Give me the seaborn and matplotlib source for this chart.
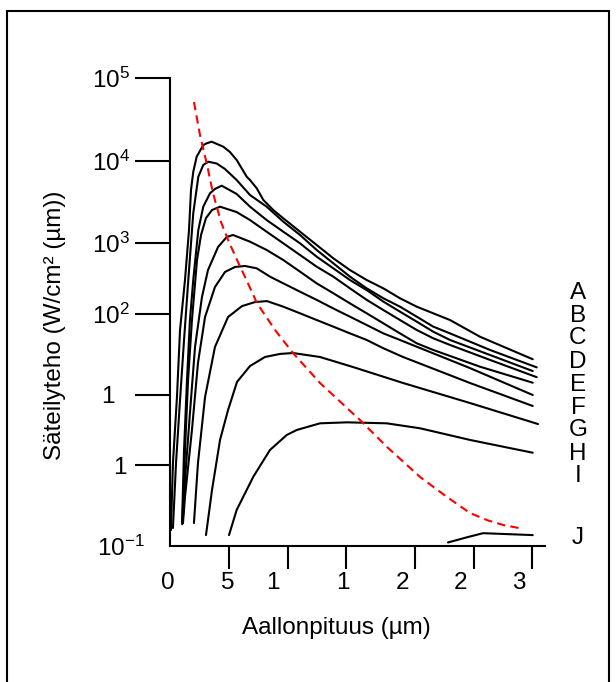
import numpy as np
import pandas as pd
import seaborn as sns
import matplotlib
matplotlib.use("Agg")
import matplotlib.pyplot as plt
from matplotlib.patches import Rectangle
from matplotlib.transforms import ScaledTranslation
from matplotlib.ticker import NullLocator

# curves: wavelength (µm) and radiance
A_X = [0.08, 0.25, 0.59, 0.85, 1.27, 1.61, 1.78, 1.97, 2.26, 2.82, 3.11, 3.53, 4.52, 5.08, 5.65, 6.5, 6.78,
       7.35, 7.91, 8.75, 9.6, 11.02, 12.43, 13.84, 15.25, 16.67, 18.08, 19.49, 20.91, 22.31, 23.73, 26.27, 30.74]
A_Y = [0.16, 1.16, 8.13, 58.8, 257, 1120, 3660, 6240, 9800, 13800, 14550, 15250, 13150, 11250, 8890, 5430, 4920,
       3855, 2730, 2030, 1590, 1070, 723, 488, 345, 257, 201, 150, 117, 96.2, 78.9, 48.2, 24.8]

B_X = [0.25, 0.51, 0.85, 1.19, 1.55, 1.97, 2.40, 2.82, 3.25, 3.96, 4.66, 5.65, 6.78, 8.19, 9.60, 11.02,
       12.43, 13.84, 15.25, 16.67, 18.08, 19.49, 20.91, 22.31, 23.73, 27.12, 31.08]
B_Y = [0.17, 1.16, 7.45, 43.8, 257, 1840, 5430, 7670, 8450, 8010, 6810, 4920, 3160, 2240, 1440, 971,
       624, 421, 284, 201, 150, 117, 87.1, 64.9, 53.2, 32.6, 19.5]

C_X = [1.02, 1.19, 1.44, 1.69, 1.97, 2.40, 2.82, 3.39, 3.81, 4.38, 5.65, 6.78, 8.19, 9.60, 11.02, 12.43,
       13.84, 15.25, 16.67, 18.08, 19.49, 20.91, 22.31, 23.73, 27.12, 30.74]
C_Y = [0.197, 1.70, 13.4, 78.9, 257, 1125, 2240, 3325, 3780, 4160, 3260, 2240, 1510, 1070, 760, 512,
       363, 257, 191, 136, 101, 75.2, 55.9, 43.8, 28.1, 17.5]

D_X = [1.04, 1.27, 1.53, 1.86, 2.29, 2.63, 3.05, 3.56, 4.24, 5.65, 6.78, 8.19, 9.60, 11.02, 12.43,
       13.84, 15.25, 16.67, 18.08, 19.49, 20.91, 22.31, 23.73, 27.12, 31.08]
D_Y = [0.19, 1.70, 13.4, 78.9, 464, 971, 1600, 2030, 2240, 1910, 1510, 1070, 760, 538, 381,
       284, 201, 143, 106, 78.9, 58.8, 46.0, 37.8, 24.3, 14.6]

E_X = [1.07, 1.27, 1.69, 2.12, 2.71, 3.22, 4.07, 4.81, 5.34, 6.78, 8.19, 9.60, 11.02, 12.43, 13.84,
       15.25, 16.67, 18.08, 19.49, 20.91, 22.31, 26.27, 30.74]
E_Y = [0.197, 0.702, 5.07, 35.6, 156, 345, 681, 916, 971, 797, 624, 464, 329, 233, 174,
       129, 96.2, 71.6, 53.2, 39.7, 32.6, 19.9, 12.4]

F_X = [1.10, 1.27, 1.86, 2.37, 2.97, 3.81, 4.66, 5.51, 6.36, 7.35, 8.47, 9.60, 11.02, 12.43, 13.84,
       15.25, 16.67, 18.08, 19.49, 20.91, 25.42, 30.74]
F_Y = [0.197, 0.425, 3.07, 22.2, 86.3, 209, 326, 378, 389, 363, 284, 233, 182, 143, 111,
       87.1, 68.1, 53.2, 43.8, 35.9, 19.1, 8.63]

G_X = [2.03, 2.37, 2.97, 3.81, 4.92, 6.10, 7.20, 8.22, 9.60, 11.02, 12.43, 13.84, 15.25, 16.67,
       18.08, 19.75, 25.42, 30.74]
G_Y = [0.197, 1.16, 8.13, 35.6, 86.3, 119, 134, 138, 117, 96.2, 78.9, 64.9, 53.2, 43.8,
       34.3, 26.5, 12.3, 6.24]

H_X = [3.05, 3.56, 4.24, 4.92, 5.68, 6.78, 8.05, 9.32, 10.42, 12.71, 15.51, 19.75, 25.42, 31.19]
H_Y = [0.138, 0.522, 2.29, 5.54, 12.7, 20.3, 26.5, 29.0, 29.8, 26.5, 19.7, 12.3, 6.81, 3.66]

I_X = [5.0, 5.65, 7.06, 8.47, 9.89, 10.74, 12.71, 15.0, 18.36, 21.19, 25.42, 30.74]
I_Y = [0.138, 0.290, 0.773, 1.70, 2.65, 3.07, 3.74, 3.85, 3.74, 3.23, 2.29, 1.57]

J_X = [23.56, 25.14, 26.53, 30.74]
J_Y = [0.111, 0.129, 0.146, 0.138]

# peak locus (red dashed)
PEAK_X = [2.03, 2.54, 3.14, 3.64, 4.32, 4.92, 5.68, 6.36, 7.37, 8.90, 10.42, 12.71, 16.10, 18.39,
          21.19, 23.47, 25.42, 26.86, 28.22, 29.66]
PEAK_Y = [49200, 18600, 7670, 3360, 1425, 838, 464, 281, 130, 58.8, 29.8, 12.3, 4.12, 1.86,
          0.767, 0.425, 0.265, 0.215, 0.186, 0.169]

CURVE_NAMES = ["A", "B", "C", "D", "E", "F", "G", "H", "I", "J"]

Y_TICKS = [1e-1, 10 ** 0.038, 10 ** 0.936, 10 ** 1.974, 10 ** 2.885, 10 ** 3.936, 1e5]
Y_TICK_LABELS = ["$10^{-1}$", "1", "1", "$10^{2}$", "$10^{3}$", "$10^{4}$", "$10^{5}$"]
X_TICKS = [0, 5, 9.97, 14.89, 20.76, 25.76, 30.70]
X_TICK_LABELS = ["0", "5", "1", "1", "2", "2", "3"]


def main():
    sns.set_style("ticks")
    plt.rcParams['font.family'] = ['Liberation Sans', 'DejaVu Sans']
    plt.rcParams['mathtext.fontset'] = 'custom'
    plt.rcParams['mathtext.rm'] = 'Liberation Sans'
    plt.rcParams['mathtext.it'] = 'Liberation Sans:italic'
    plt.rcParams['mathtext.bf'] = 'Liberation Sans:bold'
    for key in ['text.color', 'axes.labelcolor', 'xtick.color', 'ytick.color', 'axes.edgecolor']:
        plt.rcParams[key] = 'black'

    fig = plt.figure(figsize=(6.16, 6.82), dpi=100)
    ax = fig.add_axes([170 / 616, 1 - 546 / 682, 375 / 616, 468 / 682])
    ax.set_yscale('log')

    curves = [(A_X, A_Y), (B_X, B_Y), (C_X, C_Y), (D_X, D_Y), (E_X, E_Y),
              (F_X, F_Y), (G_X, G_Y), (H_X, H_Y), (I_X, I_Y), (J_X, J_Y)]
    rows = []
    for name, (xs, ys) in zip(CURVE_NAMES, curves):
        for x, y in zip(xs, ys):
            rows.append({"curve": name, "x": x, "y": y})
    df = pd.DataFrame(rows)

    sns.lineplot(data=df, x="x", y="y", units="curve", estimator=None, sort=False,
                 color="black", linewidth=1.5, solid_joinstyle="round", solid_capstyle="round", ax=ax)
    sns.lineplot(x=PEAK_X, y=PEAK_Y, estimator=None, sort=False, color="red",
                 linewidth=1.5, linestyle=(0, (4, 2.5)), ax=ax)

    ax.set_xlim(0, 31.78)
    ax.set_ylim(1e-1, 1e5)
    sns.despine(ax=ax)
    for side in ['left', 'bottom']:
        ax.spines[side].set_linewidth(1.5)

    ax.set_yticks(Y_TICKS, Y_TICK_LABELS)
    ax.yaxis.set_minor_locator(NullLocator())
    ax.set_xticks(X_TICKS, X_TICK_LABELS)
    ax.tick_params(axis='y', direction='out', length=25.2, width=1.5, pad=3.6, labelsize=17.5)
    ax.tick_params(axis='x', direction='out', length=16.6, width=1.5, pad=2, labelsize=17.5)

    # the labels in the source sit a bit off their ticks
    y_shift = [15, -3, -15, 0, 0, 0, 0]
    x_shift = [-2, -1, -14.5, -3, -12, -13, -13]
    for lab, dx in zip(ax.get_yticklabels(), y_shift):
        lab.set_transform(lab.get_transform() + ScaledTranslation(dx / 100, 0, fig.dpi_scale_trans))
    for lab, dx in zip(ax.get_xticklabels(), x_shift):
        lab.set_transform(lab.get_transform() + ScaledTranslation(dx / 100, 0, fig.dpi_scale_trans))
    for t in ax.yaxis.get_major_ticks():
        if abs(t.get_loc() - 1e-1) < 1e-6:
            t.tick1line.set_visible(False)
    for t in ax.xaxis.get_major_ticks():
        if t.get_loc() == 0:
            t.tick1line.set_visible(False)

    ax.set_xlabel("Aallonpituus (µm)", fontsize=17.5)
    ax.xaxis.set_label_coords(0.445, -0.152)
    ax.set_ylabel("Säteilyteho (W/cm² (µm))", fontsize=17.5)
    ax.yaxis.set_label_coords(-0.277, 0.472)

    for i, name in enumerate(CURVE_NAMES[:-1]):
        fig.text(578 / 616, 1 - (292.5 + 23 * i) / 682, name, ha='center', va='center', fontsize=17.5)
    fig.text(578 / 616, 1 - 538 / 682, CURVE_NAMES[-1], ha='center', va='center', fontsize=17.5)

    fig.patches.append(Rectangle((7 / 616, -0.1), 602 / 616, 1.1 - 11 / 682, transform=fig.transFigure,
                                 fill=False, linewidth=1.5, edgecolor='black'))

    fig.savefig("out.png", dpi=100)


if __name__ == "__main__":
    main()
